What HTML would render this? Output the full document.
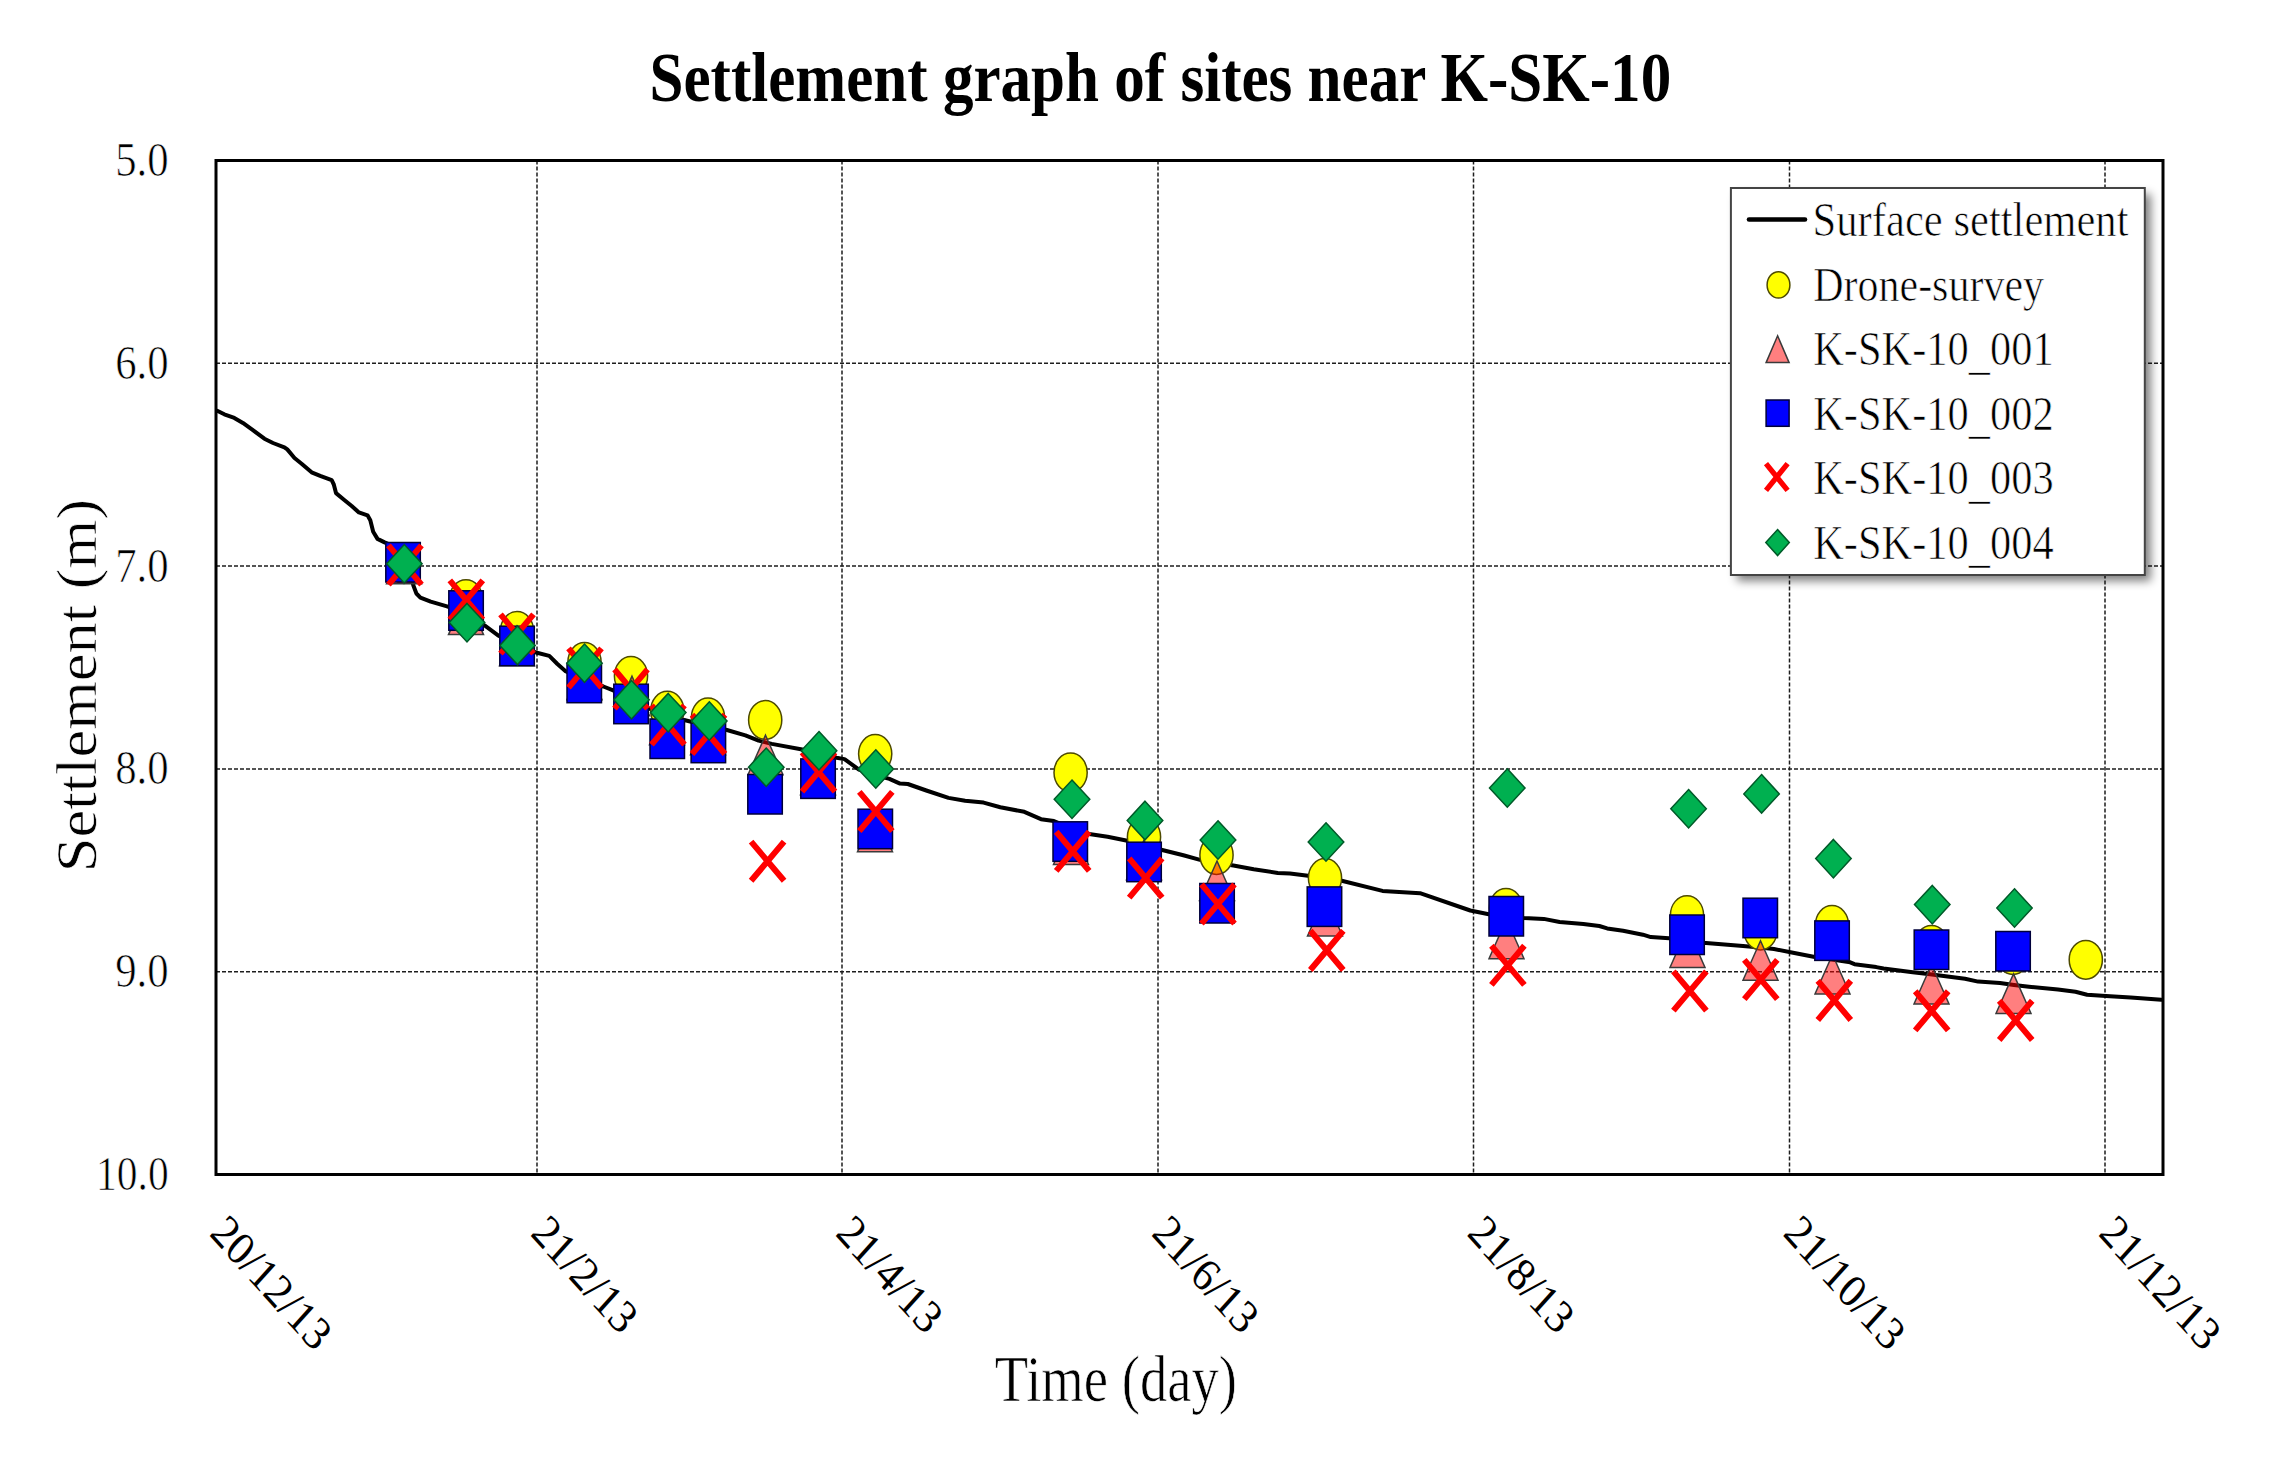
<!DOCTYPE html><html><head><meta charset="utf-8"><title>Settlement graph of sites near K-SK-10</title><style>html,body{margin:0;padding:0;background:#fff;overflow:hidden}svg{display:block}text{font-family:"Liberation Serif","Times New Roman",serif;fill:#000;stroke:#fff;stroke-width:0.7px;paint-order:normal}</style></head><body><svg width="2270" height="1467" viewBox="0 0 2270 1467"><defs><filter id="sh" x="-10%" y="-10%" width="130%" height="130%"><feGaussianBlur stdDeviation="5"/></filter></defs><rect width="2270" height="1467" fill="#fff"/><text style="stroke:none" transform="translate(649.55,100.80) scale(0.8865,1)" font-size="68.90" font-weight="bold">Settlement graph of sites near K-SK-10</text><g stroke="#1e1e1e" stroke-width="1.5" stroke-dasharray="4 2" fill="none"><line x1="537" y1="160.5" x2="537" y2="1174.5"/><line x1="842" y1="160.5" x2="842" y2="1174.5"/><line x1="1158" y1="160.5" x2="1158" y2="1174.5"/><line x1="1473.5" y1="160.5" x2="1473.5" y2="1174.5"/><line x1="1789.5" y1="160.5" x2="1789.5" y2="1174.5"/><line x1="2105" y1="160.5" x2="2105" y2="1174.5"/><line x1="216" y1="363.3" x2="2163" y2="363.3"/><line x1="216" y1="566.1" x2="2163" y2="566.1"/><line x1="216" y1="768.9" x2="2163" y2="768.9"/><line x1="216" y1="971.7" x2="2163" y2="971.7"/></g><text transform="translate(115.23,175.90) scale(0.8950,1)" font-size="47.80" font-weight="normal">5.0</text><text transform="translate(115.23,378.70) scale(0.8950,1)" font-size="47.80" font-weight="normal">6.0</text><text transform="translate(115.23,581.50) scale(0.8950,1)" font-size="47.80" font-weight="normal">7.0</text><text transform="translate(115.23,784.30) scale(0.8950,1)" font-size="47.80" font-weight="normal">8.0</text><text transform="translate(115.23,987.10) scale(0.8950,1)" font-size="47.80" font-weight="normal">9.0</text><text transform="translate(96.05,1189.90) scale(0.8680,1)" font-size="47.80" font-weight="normal">10.0</text><path d="M217.2,410.8 L224.3,414.3 L234.3,417.9 L242.9,422.9 L252.9,430.1 L264.4,438.7 L273.0,443.0 L284.4,447.3 L287.3,449.4 L294.5,458.0 L301.6,463.7 L311.6,472.3 L320.2,475.9 L331.7,480.2 L333.8,484.5 L336.0,493.1 L344.6,500.2 L351.7,506.0 L358.9,512.4 L367.5,515.3 L370.3,520.3 L373.2,531.7 L377.5,538.9 L384.6,542.4 L393.0,546.0 L401.0,553.0 L407.0,564.0 L411.0,577.0 L413.3,585.3 L416.4,593.5 L420.4,597.6 L430.7,601.7 L447.0,606.3 L466.0,613.0 L484.9,625.7 L498.1,635.4 L517.0,645.0 L537.0,652.8 L549.3,655.9 L557.4,664.0 L565.6,671.2 L584.0,680.0 L603.4,686.5 L613.2,690.4 L631.0,699.0 L650.0,709.0 L668.0,716.0 L687.2,720.8 L708.0,726.0 L726.9,730.0 L745.4,735.3 L758.6,740.6 L771.8,743.9 L800.9,749.2 L818.0,753.0 L836.6,757.8 L844.5,759.1 L859.0,769.7 L875.0,775.0 L889.4,778.9 L900.0,783.6 L907.8,784.0 L926.3,790.5 L948.5,797.9 L965.1,800.7 L983.6,802.6 L1000.3,807.2 L1024.3,811.8 L1041.0,819.2 L1053.9,821.1 L1071.0,828.0 L1089.1,834.0 L1107.6,836.8 L1126.1,840.5 L1144.0,845.0 L1161.2,849.7 L1183.4,855.3 L1200.0,859.9 L1217.0,863.0 L1233.4,865.5 L1253.7,869.2 L1277.8,872.9 L1290.0,873.6 L1300.0,874.7 L1322.0,877.5 L1341.7,880.7 L1382.5,890.9 L1420.0,893.2 L1470.3,910.5 L1490.0,914.5 L1506.0,916.5 L1524.0,918.1 L1543.8,918.9 L1559.6,922.0 L1583.4,924.0 L1599.3,926.0 L1607.2,928.4 L1623.1,930.8 L1642.9,934.7 L1650.8,937.1 L1669.0,938.3 L1687.0,940.5 L1703.0,942.8 L1743.0,946.0 L1760.0,947.5 L1774.0,949.0 L1791.8,952.5 L1814.8,957.0 L1832.0,959.5 L1850.2,962.3 L1854.5,964.2 L1876.3,967.1 L1883.6,968.5 L1912.7,972.2 L1928.0,974.0 L1941.8,975.8 L1965.0,978.7 L1978.1,981.6 L2000.0,983.1 L2014.0,985.0 L2029.0,986.7 L2058.0,989.6 L2075.5,991.8 L2087.1,994.7 L2106.0,996.1 L2130.7,997.6 L2161.3,999.8" fill="none" stroke="#000" stroke-width="4" stroke-linejoin="round" stroke-linecap="round"/><ellipse cx="404" cy="564" rx="16.6" ry="19.4" fill="#ff0" stroke="#4d4a00" stroke-width="1.5"/><ellipse cx="466" cy="599.2" rx="16.6" ry="19.4" fill="#ff0" stroke="#4d4a00" stroke-width="1.5"/><ellipse cx="517" cy="631" rx="16.6" ry="19.4" fill="#ff0" stroke="#4d4a00" stroke-width="1.5"/><ellipse cx="584.5" cy="662" rx="16.6" ry="19.4" fill="#ff0" stroke="#4d4a00" stroke-width="1.5"/><ellipse cx="631" cy="676" rx="16.6" ry="19.4" fill="#ff0" stroke="#4d4a00" stroke-width="1.5"/><ellipse cx="667.3" cy="710.7" rx="16.6" ry="19.4" fill="#ff0" stroke="#4d4a00" stroke-width="1.5"/><ellipse cx="708" cy="717.5" rx="16.6" ry="19.4" fill="#ff0" stroke="#4d4a00" stroke-width="1.5"/><ellipse cx="765.2" cy="720" rx="16.6" ry="19.4" fill="#ff0" stroke="#4d4a00" stroke-width="1.5"/><ellipse cx="818" cy="770" rx="16.6" ry="19.4" fill="#ff0" stroke="#4d4a00" stroke-width="1.5"/><ellipse cx="875.2" cy="754" rx="16.6" ry="19.4" fill="#ff0" stroke="#4d4a00" stroke-width="1.5"/><ellipse cx="1070.6" cy="772.5" rx="16.6" ry="19.4" fill="#ff0" stroke="#4d4a00" stroke-width="1.5"/><ellipse cx="1144" cy="837" rx="16.6" ry="19.4" fill="#ff0" stroke="#4d4a00" stroke-width="1.5"/><ellipse cx="1216.5" cy="855" rx="16.6" ry="19.4" fill="#ff0" stroke="#4d4a00" stroke-width="1.5"/><ellipse cx="1325" cy="878" rx="16.6" ry="19.4" fill="#ff0" stroke="#4d4a00" stroke-width="1.5"/><ellipse cx="1506" cy="908" rx="16.6" ry="19.4" fill="#ff0" stroke="#4d4a00" stroke-width="1.5"/><ellipse cx="1687" cy="915.1" rx="16.6" ry="19.4" fill="#ff0" stroke="#4d4a00" stroke-width="1.5"/><ellipse cx="1760.5" cy="930.6" rx="16.6" ry="19.4" fill="#ff0" stroke="#4d4a00" stroke-width="1.5"/><ellipse cx="1832" cy="925" rx="16.6" ry="19.4" fill="#ff0" stroke="#4d4a00" stroke-width="1.5"/><ellipse cx="1931.5" cy="944.8" rx="16.6" ry="19.4" fill="#ff0" stroke="#4d4a00" stroke-width="1.5"/><ellipse cx="2013" cy="955" rx="16.6" ry="19.4" fill="#ff0" stroke="#4d4a00" stroke-width="1.5"/><ellipse cx="2085.8" cy="959.8" rx="16.6" ry="19.4" fill="#ff0" stroke="#4d4a00" stroke-width="1.5"/><path d="M404,544.2 L421.5,583.8 L386.5,583.8Z" fill="rgba(255,0,0,0.5)" stroke="#3a3a3a" stroke-width="1.5" stroke-linejoin="miter"/><path d="M466,595.1 L483.5,634.6 L448.5,634.6Z" fill="rgba(255,0,0,0.5)" stroke="#3a3a3a" stroke-width="1.5" stroke-linejoin="miter"/><path d="M517,626.2 L534.5,665.8 L499.5,665.8Z" fill="rgba(255,0,0,0.5)" stroke="#3a3a3a" stroke-width="1.5" stroke-linejoin="miter"/><path d="M584.5,660.2 L602.0,699.8 L567.0,699.8Z" fill="rgba(255,0,0,0.5)" stroke="#3a3a3a" stroke-width="1.5" stroke-linejoin="miter"/><path d="M632,676.2 L649.5,715.8 L614.5,715.8Z" fill="rgba(255,0,0,0.5)" stroke="#3a3a3a" stroke-width="1.5" stroke-linejoin="miter"/><path d="M667,705.2 L684.5,744.8 L649.5,744.8Z" fill="rgba(255,0,0,0.5)" stroke="#3a3a3a" stroke-width="1.5" stroke-linejoin="miter"/><path d="M708,715.2 L725.5,754.8 L690.5,754.8Z" fill="rgba(255,0,0,0.5)" stroke="#3a3a3a" stroke-width="1.5" stroke-linejoin="miter"/><path d="M765.5,735.2 L783.0,774.8 L748.0,774.8Z" fill="rgba(255,0,0,0.5)" stroke="#3a3a3a" stroke-width="1.5" stroke-linejoin="miter"/><path d="M818,755.2 L835.5,794.8 L800.5,794.8Z" fill="rgba(255,0,0,0.5)" stroke="#3a3a3a" stroke-width="1.5" stroke-linejoin="miter"/><path d="M875,812.2 L892.5,851.8 L857.5,851.8Z" fill="rgba(255,0,0,0.5)" stroke="#3a3a3a" stroke-width="1.5" stroke-linejoin="miter"/><path d="M1071,825.0 L1088.5,864.5 L1053.5,864.5Z" fill="rgba(255,0,0,0.5)" stroke="#3a3a3a" stroke-width="1.5" stroke-linejoin="miter"/><path d="M1144,840.2 L1161.5,879.8 L1126.5,879.8Z" fill="rgba(255,0,0,0.5)" stroke="#3a3a3a" stroke-width="1.5" stroke-linejoin="miter"/><path d="M1217,861.0 L1234.5,900.5 L1199.5,900.5Z" fill="rgba(255,0,0,0.5)" stroke="#3a3a3a" stroke-width="1.5" stroke-linejoin="miter"/><path d="M1325,896.5 L1342.5,936.0 L1307.5,936.0Z" fill="rgba(255,0,0,0.5)" stroke="#3a3a3a" stroke-width="1.5" stroke-linejoin="miter"/><path d="M1506.5,919.2 L1524.0,958.8 L1489.0,958.8Z" fill="rgba(255,0,0,0.5)" stroke="#3a3a3a" stroke-width="1.5" stroke-linejoin="miter"/><path d="M1687.5,927.9 L1705.0,967.4 L1670.0,967.4Z" fill="rgba(255,0,0,0.5)" stroke="#3a3a3a" stroke-width="1.5" stroke-linejoin="miter"/><path d="M1760.5,940.8 L1778.0,980.2 L1743.0,980.2Z" fill="rgba(255,0,0,0.5)" stroke="#3a3a3a" stroke-width="1.5" stroke-linejoin="miter"/><path d="M1832.5,954.5 L1850.0,994.0 L1815.0,994.0Z" fill="rgba(255,0,0,0.5)" stroke="#3a3a3a" stroke-width="1.5" stroke-linejoin="miter"/><path d="M1931.5,964.5 L1949.0,1004.0 L1914.0,1004.0Z" fill="rgba(255,0,0,0.5)" stroke="#3a3a3a" stroke-width="1.5" stroke-linejoin="miter"/><path d="M2013.5,973.9 L2031.0,1013.4 L1996.0,1013.4Z" fill="rgba(255,0,0,0.5)" stroke="#3a3a3a" stroke-width="1.5" stroke-linejoin="miter"/><rect x="385.8" y="542.5" width="34.5" height="39.5" fill="#00f" stroke="#00003a" stroke-width="1.5"/><rect x="448.8" y="590.8" width="34.5" height="39.5" fill="#00f" stroke="#00003a" stroke-width="1.5"/><rect x="499.8" y="626.2" width="34.5" height="39.5" fill="#00f" stroke="#00003a" stroke-width="1.5"/><rect x="567.0" y="663.2" width="34.5" height="39.5" fill="#00f" stroke="#00003a" stroke-width="1.5"/><rect x="613.8" y="684.2" width="34.5" height="39.5" fill="#00f" stroke="#00003a" stroke-width="1.5"/><rect x="650.0" y="719.0" width="34.5" height="39.5" fill="#00f" stroke="#00003a" stroke-width="1.5"/><rect x="691.1" y="723.2" width="34.5" height="39.5" fill="#00f" stroke="#00003a" stroke-width="1.5"/><rect x="747.8" y="774.5" width="34.5" height="39.5" fill="#00f" stroke="#00003a" stroke-width="1.5"/><rect x="800.8" y="758.9" width="34.5" height="39.5" fill="#00f" stroke="#00003a" stroke-width="1.5"/><rect x="858.0" y="809.2" width="34.5" height="39.5" fill="#00f" stroke="#00003a" stroke-width="1.5"/><rect x="1053.0" y="821.8" width="34.5" height="39.5" fill="#00f" stroke="#00003a" stroke-width="1.5"/><rect x="1126.8" y="842.2" width="34.5" height="39.5" fill="#00f" stroke="#00003a" stroke-width="1.5"/><rect x="1199.8" y="883.5" width="34.5" height="39.5" fill="#00f" stroke="#00003a" stroke-width="1.5"/><rect x="1307.2" y="886.9" width="34.5" height="39.5" fill="#00f" stroke="#00003a" stroke-width="1.5"/><rect x="1489.0" y="896.5" width="34.5" height="39.5" fill="#00f" stroke="#00003a" stroke-width="1.5"/><rect x="1669.8" y="915.0" width="34.5" height="39.5" fill="#00f" stroke="#00003a" stroke-width="1.5"/><rect x="1743.0" y="898.2" width="34.5" height="39.5" fill="#00f" stroke="#00003a" stroke-width="1.5"/><rect x="1814.8" y="920.9" width="34.5" height="39.5" fill="#00f" stroke="#00003a" stroke-width="1.5"/><rect x="1914.2" y="930.0" width="34.5" height="39.5" fill="#00f" stroke="#00003a" stroke-width="1.5"/><rect x="1995.8" y="931.5" width="34.5" height="39.5" fill="#00f" stroke="#00003a" stroke-width="1.5"/><path d="M388.5,545.4 L421.5,584.6 M421.5,545.4 L388.5,584.6" stroke="#f00" stroke-width="6" stroke-linecap="butt" fill="none"/><path d="M449.8,580.4 L482.8,619.6 M482.8,580.4 L449.8,619.6" stroke="#f00" stroke-width="6" stroke-linecap="butt" fill="none"/><path d="M500.5,614.4 L533.5,653.6 M533.5,614.4 L500.5,653.6" stroke="#f00" stroke-width="6" stroke-linecap="butt" fill="none"/><path d="M568.5,648.4 L601.5,687.6 M601.5,648.4 L568.5,687.6" stroke="#f00" stroke-width="6" stroke-linecap="butt" fill="none"/><path d="M614.5,669.4 L647.5,708.6 M647.5,669.4 L614.5,708.6" stroke="#f00" stroke-width="6" stroke-linecap="butt" fill="none"/><path d="M651.5,705.4 L684.5,744.6 M684.5,705.4 L651.5,744.6" stroke="#f00" stroke-width="6" stroke-linecap="butt" fill="none"/><path d="M692.0,714.8 L725.0,754.0 M725.0,714.8 L692.0,754.0" stroke="#f00" stroke-width="6" stroke-linecap="butt" fill="none"/><path d="M751.1,841.6 L784.1,880.8 M784.1,841.6 L751.1,880.8" stroke="#f00" stroke-width="6" stroke-linecap="butt" fill="none"/><path d="M802.0,752.4 L835.0,791.6 M835.0,752.4 L802.0,791.6" stroke="#f00" stroke-width="6" stroke-linecap="butt" fill="none"/><path d="M859.3,791.9 L892.3,831.1 M892.3,791.9 L859.3,831.1" stroke="#f00" stroke-width="6" stroke-linecap="butt" fill="none"/><path d="M1056.2,831.7 L1089.2,870.9 M1089.2,831.7 L1056.2,870.9" stroke="#f00" stroke-width="6" stroke-linecap="butt" fill="none"/><path d="M1129.2,858.4 L1162.2,897.6 M1162.2,858.4 L1129.2,897.6" stroke="#f00" stroke-width="6" stroke-linecap="butt" fill="none"/><path d="M1201.5,884.4 L1234.5,923.6 M1234.5,884.4 L1201.5,923.6" stroke="#f00" stroke-width="6" stroke-linecap="butt" fill="none"/><path d="M1310.3,930.8 L1343.3,970.0 M1343.3,930.8 L1310.3,970.0" stroke="#f00" stroke-width="6" stroke-linecap="butt" fill="none"/><path d="M1491.4,945.7 L1524.4,984.9 M1524.4,945.7 L1491.4,984.9" stroke="#f00" stroke-width="6" stroke-linecap="butt" fill="none"/><path d="M1673.4,971.4 L1706.4,1010.6 M1706.4,971.4 L1673.4,1010.6" stroke="#f00" stroke-width="6" stroke-linecap="butt" fill="none"/><path d="M1744.3,959.9 L1777.3,999.1 M1777.3,959.9 L1744.3,999.1" stroke="#f00" stroke-width="6" stroke-linecap="butt" fill="none"/><path d="M1817.8,980.8 L1850.8,1020.0 M1850.8,980.8 L1817.8,1020.0" stroke="#f00" stroke-width="6" stroke-linecap="butt" fill="none"/><path d="M1915.2,991.2 L1948.2,1030.4 M1948.2,991.2 L1915.2,1030.4" stroke="#f00" stroke-width="6" stroke-linecap="butt" fill="none"/><path d="M1999.2,1000.8 L2032.2,1040.0 M2032.2,1000.8 L1999.2,1040.0" stroke="#f00" stroke-width="6" stroke-linecap="butt" fill="none"/><path d="M404.3,544.5 L422.1,563.7 L404.3,583.0 L386.6,563.7Z" fill="#00b050" stroke="#005a28" stroke-width="1.5"/><path d="M467,603.4 L484.8,622.6 L467,641.9 L449.2,622.6Z" fill="#00b050" stroke="#005a28" stroke-width="1.5"/><path d="M517.5,626.1 L535.2,645.4 L517.5,664.6 L499.8,645.4Z" fill="#00b050" stroke="#005a28" stroke-width="1.5"/><path d="M584.5,644.0 L602.2,663.3 L584.5,682.5 L566.8,663.3Z" fill="#00b050" stroke="#005a28" stroke-width="1.5"/><path d="M631.5,680.5 L649.2,699.7 L631.5,719.0 L613.8,699.7Z" fill="#00b050" stroke="#005a28" stroke-width="1.5"/><path d="M668.2,693.4 L686.0,712.6 L668.2,731.9 L650.5,712.6Z" fill="#00b050" stroke="#005a28" stroke-width="1.5"/><path d="M709.3,701.8 L727.0,721 L709.3,740.2 L691.5,721Z" fill="#00b050" stroke="#005a28" stroke-width="1.5"/><path d="M766.2,748.0 L784.0,767.2 L766.2,786.5 L748.5,767.2Z" fill="#00b050" stroke="#005a28" stroke-width="1.5"/><path d="M819,731.5 L836.8,750.7 L819,770.0 L801.2,750.7Z" fill="#00b050" stroke="#005a28" stroke-width="1.5"/><path d="M875.8,749.8 L893.5,769 L875.8,788.2 L858.0,769Z" fill="#00b050" stroke="#005a28" stroke-width="1.5"/><path d="M1072,780.0 L1089.8,799.3 L1072,818.5 L1054.2,799.3Z" fill="#00b050" stroke="#005a28" stroke-width="1.5"/><path d="M1145,801.2 L1162.8,820.5 L1145,839.8 L1127.2,820.5Z" fill="#00b050" stroke="#005a28" stroke-width="1.5"/><path d="M1218,820.8 L1235.8,840 L1218,859.2 L1200.2,840Z" fill="#00b050" stroke="#005a28" stroke-width="1.5"/><path d="M1326,822.8 L1343.8,842 L1326,861.2 L1308.2,842Z" fill="#00b050" stroke="#005a28" stroke-width="1.5"/><path d="M1507.3,768.8 L1525.0,788 L1507.3,807.2 L1489.5,788Z" fill="#00b050" stroke="#005a28" stroke-width="1.5"/><path d="M1688.6,789.5 L1706.3,808.8 L1688.6,828.0 L1670.8,808.8Z" fill="#00b050" stroke="#005a28" stroke-width="1.5"/><path d="M1761.6,774.6 L1779.3,793.9 L1761.6,813.1 L1743.8,793.9Z" fill="#00b050" stroke="#005a28" stroke-width="1.5"/><path d="M1833.4,839.4 L1851.2,858.6 L1833.4,877.9 L1815.7,858.6Z" fill="#00b050" stroke="#005a28" stroke-width="1.5"/><path d="M1932.3,885.4 L1950.0,904.6 L1932.3,923.9 L1914.5,904.6Z" fill="#00b050" stroke="#005a28" stroke-width="1.5"/><path d="M2014.5,888.8 L2032.2,908 L2014.5,927.2 L1996.8,908Z" fill="#00b050" stroke="#005a28" stroke-width="1.5"/><rect x="216" y="160.5" width="1947" height="1014.0" fill="none" stroke="#000" stroke-width="3"/><rect x="1736.9" y="194" width="413.9000000000001" height="387" fill="#000" opacity="0.5" filter="url(#sh)"/><rect x="1730.9" y="188" width="413.9000000000001" height="387" fill="#fff" stroke="#444" stroke-width="2"/><line x1="1749" y1="219.5" x2="1805" y2="219.5" stroke="#000" stroke-width="4.6" stroke-linecap="round"/><ellipse cx="1778.5" cy="284.9" rx="11.4" ry="13.2" fill="#ff0" stroke="#4d4a00" stroke-width="1.5"/><path d="M1777.6,335.8 L1789.1,362.6 L1766.1,362.6Z" fill="rgba(255,0,0,0.5)" stroke="#3a3a3a" stroke-width="1.5" stroke-linejoin="miter"/><rect x="1766.1" y="400.0" width="23" height="26.3" fill="#00f" stroke="#00003a" stroke-width="1.5"/><path d="M1766.0,463.6 L1787.6,490.4 M1787.6,463.6 L1766.0,490.4" stroke="#f00" stroke-width="5.3" stroke-linecap="butt" fill="none"/><path d="M1777.6,529.6 L1789.3,542.6 L1777.6,555.6 L1765.8,542.6Z" fill="#00b050" stroke="#005a28" stroke-width="1.5"/><text transform="translate(1812.62,235.80) scale(0.8936,1)" font-size="47.70" font-weight="normal">Surface settlement</text><text transform="translate(1813.14,301.00) scale(0.8811,1)" font-size="47.70" font-weight="normal">Drone-survey</text><text transform="translate(1813.13,365.20) scale(0.8900,1)" font-size="47.70" font-weight="normal">K-SK-10<tspan dy="3.5">_</tspan><tspan dy="-3.5">001</tspan></text><text transform="translate(1813.13,429.80) scale(0.8900,1)" font-size="47.70" font-weight="normal">K-SK-10<tspan dy="3.5">_</tspan><tspan dy="-3.5">002</tspan></text><text transform="translate(1813.13,494.20) scale(0.8900,1)" font-size="47.70" font-weight="normal">K-SK-10<tspan dy="3.5">_</tspan><tspan dy="-3.5">003</tspan></text><text transform="translate(1813.13,558.60) scale(0.8900,1)" font-size="47.70" font-weight="normal">K-SK-10<tspan dy="3.5">_</tspan><tspan dy="-3.5">004</tspan></text><text transform="translate(994.71,1400.70) scale(0.8380,1)" font-size="65.20" font-weight="normal">Time (day)</text><text transform="translate(95.5,872.17) scale(0.92,1) rotate(-90)" font-size="62.5">Settlement (m)</text><text style="stroke:none" transform="translate(208.4,1234.6) scale(0.9,1) rotate(45)" font-size="47">20/12/13</text><text style="stroke:none" transform="translate(529.4,1234.6) scale(0.9,1) rotate(45)" font-size="47">21/2/13</text><text style="stroke:none" transform="translate(834.4,1234.6) scale(0.9,1) rotate(45)" font-size="47">21/4/13</text><text style="stroke:none" transform="translate(1150.4,1234.6) scale(0.9,1) rotate(45)" font-size="47">21/6/13</text><text style="stroke:none" transform="translate(1465.9,1234.6) scale(0.9,1) rotate(45)" font-size="47">21/8/13</text><text style="stroke:none" transform="translate(1781.9,1234.6) scale(0.9,1) rotate(45)" font-size="47">21/10/13</text><text style="stroke:none" transform="translate(2097.4,1234.6) scale(0.9,1) rotate(45)" font-size="47">21/12/13</text></svg></body></html>
